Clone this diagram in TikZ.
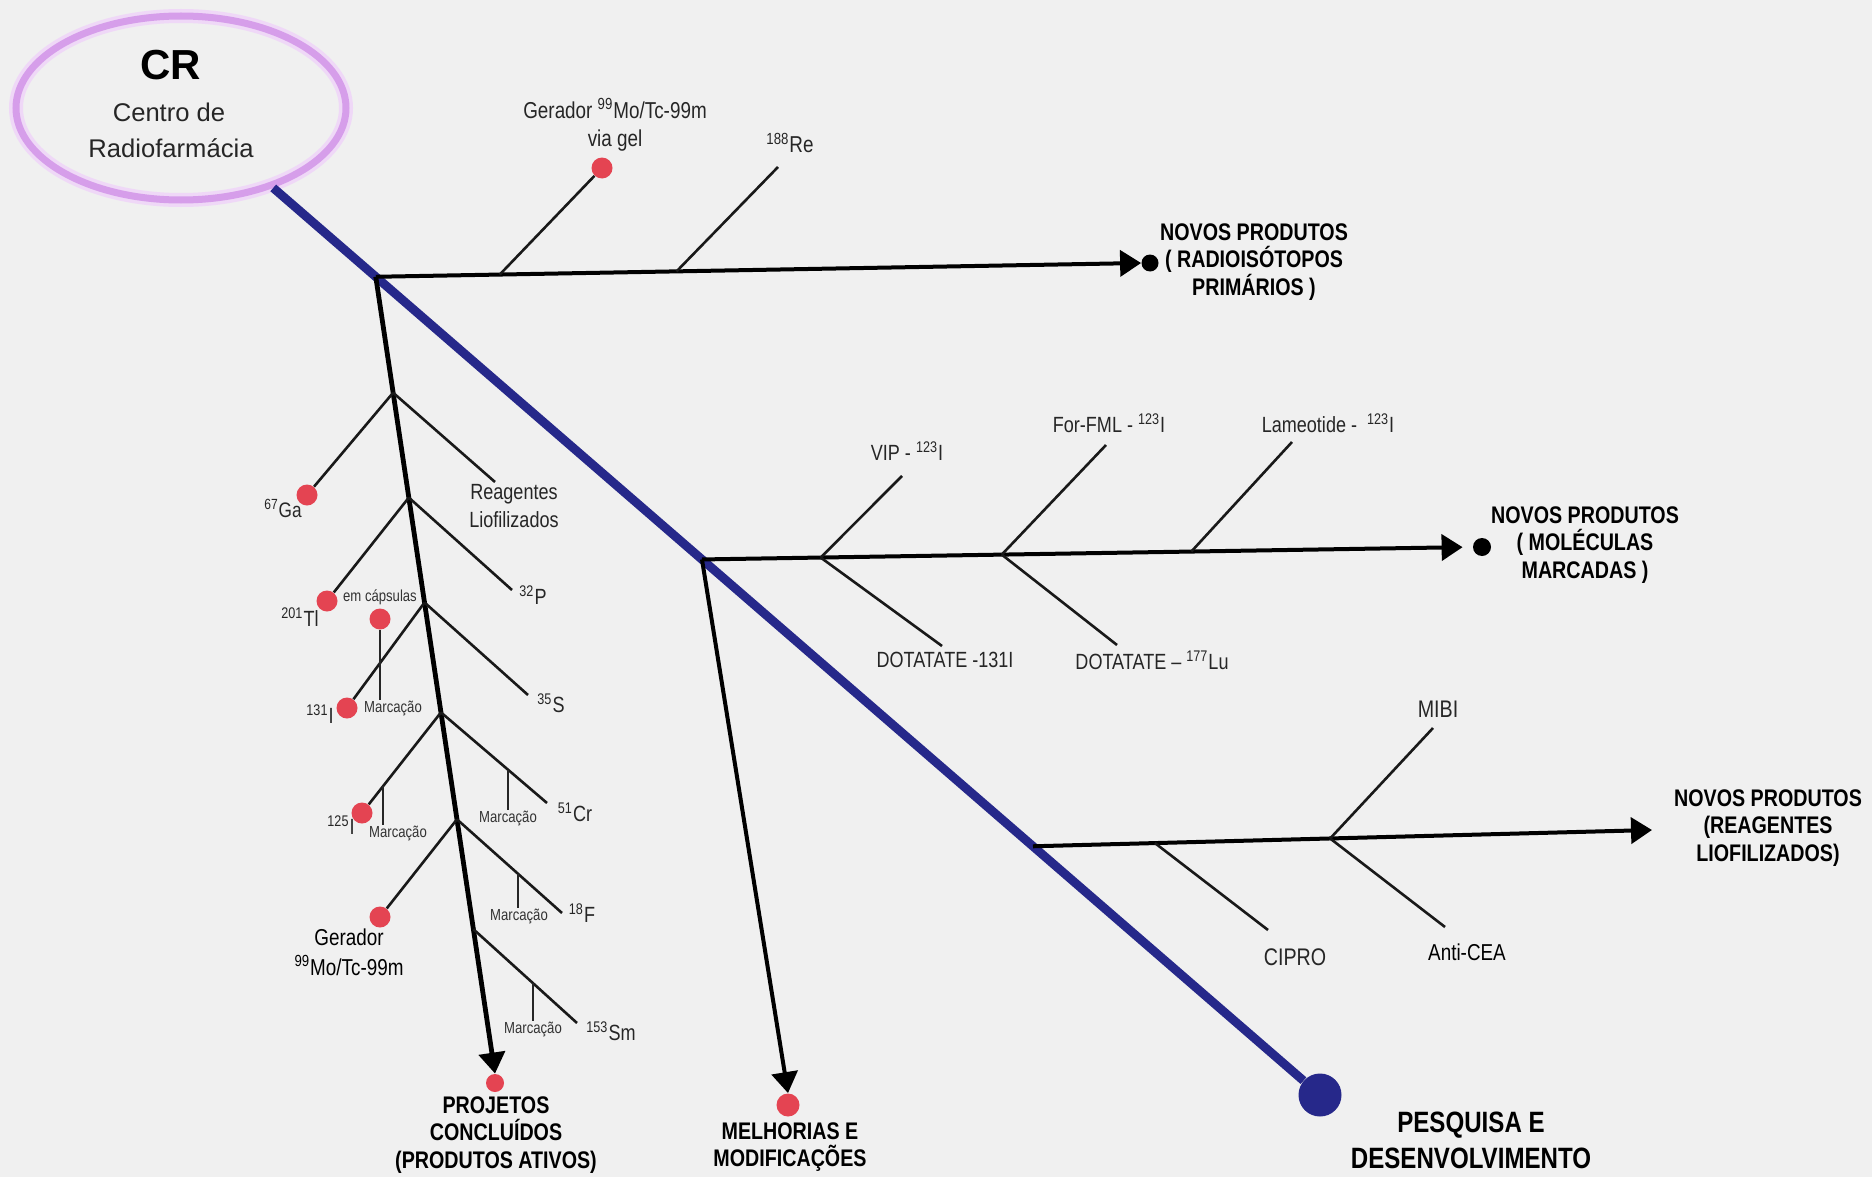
\documentclass[tikz,border=0pt]{standalone}
\usepackage{fontspec}
\setmainfont{Liberation Sans}
\newfontfamily\nsans[FakeStretch=0.82]{Liberation Sans}
\usetikzlibrary{arrows.meta,calc,shapes.geometric}
\definecolor{bg}{HTML}{F0F0F0}
\definecolor{navy}{RGB}{38,40,138}
\definecolor{lilac}{RGB}{214,158,234}
\definecolor{dotred}{RGB}{228,68,82}
\newcommand\fs[2]{\fontsize{#1}{#2}\selectfont}
\begin{document}
\begin{tikzpicture}[x=0.5pt,y=-0.5pt,
  lbl/.style={font=\nsans\fs{11}{14}, text=black!85, inner sep=0pt, align=center},
  head/.style={font=\nsans\bfseries\fs{12}{13.75}, text=black, inner sep=0pt, align=center},
  small/.style={font=\nsans\fs{8}{9}, text=black!80, inner sep=0pt},
  reddot/.style={circle, fill=dotred, inner sep=0pt, minimum size=10.5pt},
  blackdot/.style={circle, fill=black, inner sep=0pt, minimum size=8.5pt},
  mainarrow/.style={line width=2pt, -{Triangle[length=10.5pt,width=13pt]}},
  rib/.style={line width=1.3pt, black!90},
  tickline/.style={line width=0.9pt, black!85},
]
\useasboundingbox (0,0) rectangle (1872,1177);
\fill[bg] (0,0) rectangle (1872,1177);

% title ellipse
\node[ellipse, draw=lilac, line width=3.5pt, minimum width=165pt, minimum height=92pt,
      preaction={draw=lilac!40, line width=7pt}] (cr) at (181,108) {};
\node[anchor=base, inner sep=0pt, font=\bfseries\fs{21}{24}] (crT) at (171,80) {CR};
\node[anchor=base, inner sep=0pt, font=\fs{12.8}{15}, text=black!85] (crA) at (169,121) {Centro de};
\node[anchor=base, inner sep=0pt, font=\fs{12.8}{15}, text=black!85] (crB) at (171,157) {Radiofarmácia};

% main axis
\node[circle, fill=navy, inner sep=0pt, minimum size=21.5pt] (pd) at (1320,1095) {};
\draw[navy, line width=4.4pt] (cr) -- (pd);
\coordinate (J1) at ($(cr.center)!0.171!(pd.center)$);
\coordinate (J2) at ($(cr.center)!0.4574!(pd.center)$);
\coordinate (J3) at ($(cr.center)!0.748!(pd.center)$);
\node[head, font=\nsans\bfseries\fs{14.7}{18}] (pdT) at (1471,1140) {PESQUISA E\\DESENVOLVIMENTO};

% branch: primary radioisotopes
\node[blackdot] (d1) at (1150,263) {};
\draw[mainarrow] (J1) -- (d1.west);
\node[head] (h1) at (1254,262) {NOVOS PRODUTOS\\( RADIOISÓTOPOS\\PRIMÁRIOS )};
\coordinate (a1) at ($(J1)!0.162!(d1.west)$);
\coordinate (a2) at ($(J1)!0.393!(d1.west)$);
\node[reddot] (gmo) at (602,168) {};
\coordinate (re) at (778,167);
\draw[rib] (a1) -- (gmo);
\draw[rib] (a2) -- (re);
\node[lbl, font=\nsans\fs{11.5}{14}] (gmoT) at (615,125) {Gerador \textsuperscript{99}Mo/Tc-99m\\via gel};
\node[lbl, font=\nsans\fs{11.5}{14}] (reT) at (790,143) {\textsuperscript{188}Re};

% branch: labelled molecules
\node[blackdot, minimum size=9pt] (d2) at (1482,547) {};
\draw[mainarrow, shorten >=5pt] (J2) -- (d2.west);
\node[head] (h2) at (1585,545) {NOVOS PRODUTOS\\( MOLÉCULAS\\MARCADAS )};
\coordinate (b1) at ($(J2)!0.154!(d2.west)$);
\coordinate (b2) at ($(J2)!0.389!(d2.west)$);
\coordinate (b3) at ($(J2)!0.635!(d2.west)$);
\coordinate (vip) at (902,476);
\coordinate (d131) at (942,646);
\coordinate (ffml) at (1106,445);
\coordinate (dlu) at (1117,645);
\coordinate (lam) at (1292,442);
\draw[rib] (b1) -- (vip);
\draw[rib] (b1) -- (d131);
\draw[rib] (b2) -- (ffml);
\draw[rib] (b2) -- (dlu);
\draw[rib] (b3) -- (lam);
\node[lbl] (vipT) at (907,451) {VIP - \textsuperscript{123}I};
\node[lbl] (d131T) at (945,660) {DOTATATE -131I};
\node[lbl] (ffmlT) at (1109,423) {For-FML - \textsuperscript{123}I};
\node[lbl] (dluT) at (1152,660) {DOTATATE – \textsuperscript{177}Lu};
\node[lbl] (lamT) at (1328,423) {Lameotide - \ \textsuperscript{123}I};

% branch: lyophilised reagents
\coordinate (t3) at (1652,830);
\draw[mainarrow] (J3) -- (t3);
\node[head] (h3) at (1768,828) {NOVOS PRODUTOS\\(REAGENTES\\LIOFILIZADOS)};
\coordinate (c1) at ($(J3)!0.197!(t3)$);
\coordinate (c2) at ($(J3)!0.48!(t3)$);
\coordinate (cipro) at (1268,930);
\coordinate (mibi) at (1433,728);
\coordinate (cea) at (1445,927);
\draw[rib] (c1) -- (cipro);
\draw[rib] (c2) -- (mibi);
\draw[rib] (c2) -- (cea);
\node[lbl, font=\nsans\fs{12}{14}] (ciproT) at (1295,957) {CIPRO};
\node[lbl, font=\nsans\fs{12}{14}] (mibiT) at (1438,709) {MIBI};
\node[lbl, font=\nsans\fs{11.5}{14}, text=black] (ceaT) at (1467,952) {Anti-CEA};

% branch: improvements
\node[reddot, minimum size=11.5pt] (mel) at (788,1105) {};
\draw[mainarrow] (J2) -- (mel.north);
\node[head] (melT) at (790,1147) {MELHORIAS E\\MODIFICAÇÕES};

% branch: finished projects
\node[reddot, minimum size=9pt] (pc) at (495,1083) {};
\draw[mainarrow, line width=2.4pt] (J1) -- (pc.north);
\node[head] (pcT) at (496,1135) {PROJETOS\\CONCLUÍDOS\\(PRODUTOS ATIVOS)};
\coordinate (k1) at ($(J1)!0.1455!(pc.north)$);
\coordinate (k2) at ($(J1)!0.2771!(pc.north)$);
\coordinate (k3) at ($(J1)!0.4088!(pc.north)$);
\coordinate (k4) at ($(J1)!0.5467!(pc.north)$);
\coordinate (k5) at ($(J1)!0.6809!(pc.north)$);
\coordinate (k6) at ($(J1)!0.8188!(pc.north)$);

\node[reddot] (ga) at (307,495) {};
\node[reddot] (tl) at (327,601) {};
\node[reddot] (i131) at (347,708) {};
\node[reddot] (cap) at (380,619) {};
\node[reddot] (i125) at (362,813) {};
\node[reddot] (gen) at (380,917) {};
\coordinate (reag) at (495,482);
\coordinate (p32) at (512,590);
\coordinate (s35) at (528,695);
\coordinate (cr51) at (547,803);
\coordinate (f18) at (562,913);
\coordinate (sm) at (577,1023);

\draw[rib] (k1) -- (ga);
\draw[rib] (k1) -- (reag);
\draw[rib] (k2) -- (tl);
\draw[rib] (k2) -- (p32);
\draw[rib] (k3) -- (i131);
\draw[rib] (k3) -- (s35);
\draw[rib] (k4) -- (i125);
\draw[rib] (k4) -- (cr51);
\draw[rib] (k5) -- (gen);
\draw[rib] (k5) -- (f18);
\draw[rib] (k6) -- (sm);

% labelling markers
\node[small] (m0) at (393,708) {Marcação};
\node[small] (m1) at (398,833) {Marcação};
\node[small] (m2) at (508,818) {Marcação};
\node[small] (m3) at (519,916) {Marcação};
\node[small] (m4) at (533,1029) {Marcação};
\node[small] (capT) at (380,597) {em cápsulas};
\draw[tickline] (cap) -- (cap |- m0.north);
\coordinate (q1) at ($(k4)!0.734!(i125.center)$);
\coordinate (q2) at ($(k4)!0.632!(cr51)$);
\coordinate (q3) at ($(k5)!0.581!(f18)$);
\coordinate (q4) at ($(k6)!0.577!(sm)$);
\draw[tickline] (q1) -- (q1 |- m1.north);
\draw[tickline] (q2) -- (q2 |- m2.north);
\draw[tickline] (q3) -- (q3 |- m3.north);
\draw[tickline] (q4) -- (q4 |- m4.north);

% isotope labels
\node[lbl, font=\nsans\fs{10.5}{13}] (gaT) at (283,508) {\textsuperscript{67}Ga};
\node[lbl] (reagT) at (514,506) {Reagentes\\Liofilizados};
\node[lbl] (p32T) at (533,595) {\textsuperscript{32}P};
\node[lbl] (tlT) at (300,617) {\textsuperscript{201}Tl};
\node[lbl] (s35T) at (551,703) {\textsuperscript{35}S};
\node[lbl] (i131T) at (320,714) {\textsuperscript{131}I};
\node[lbl] (i125T) at (341,825) {\textsuperscript{125}I};
\node[lbl] (cr51T) at (575,812) {\textsuperscript{51}Cr};
\node[lbl, font=\nsans\fs{11.5}{15}, text=black] (genT) at (349,952) {Gerador\\\textsuperscript{99}Mo/Tc-99m};
\node[lbl] (f18T) at (582,913) {\textsuperscript{18}F};
\node[lbl] (smT) at (611,1031) {\textsuperscript{153}Sm};
\end{tikzpicture}
\end{document}
